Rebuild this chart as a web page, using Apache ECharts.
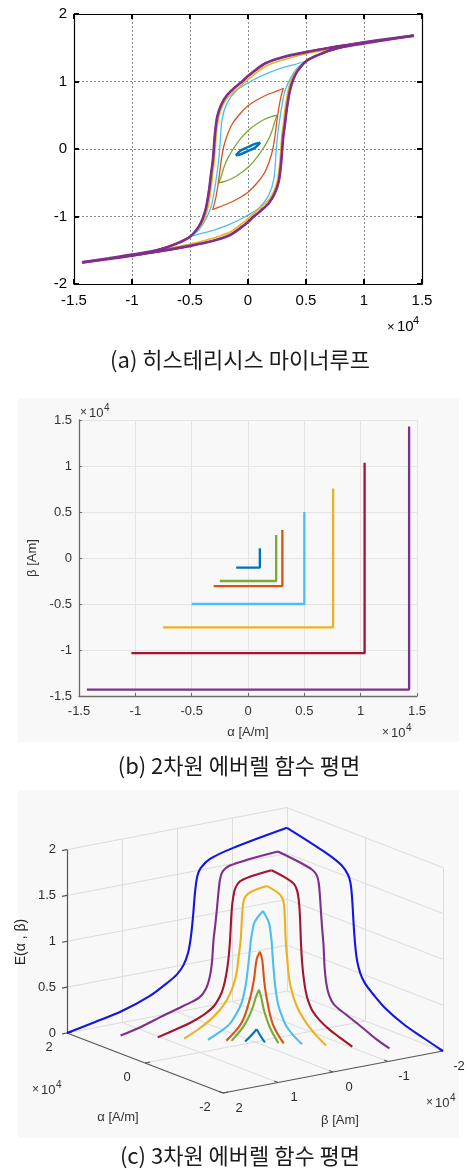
<!DOCTYPE html>
<html>
<head>
<meta charset="utf-8">
<script src="https://cdn.jsdelivr.net/npm/echarts@6/dist/echarts.min.js"></script>
<style>
  html, body { margin: 0; padding: 0; background: #ffffff; }
  #chart { width: 467px; height: 1170px; }
</style>
</head>
<body>
<div id="chart"></div>
<script>
// ---------------- data ----------------
// Minor-loop amplitudes H (A/m) and colours (smallest loop first)
const loopAmplitude = [1050, 2500, 3050, 5000, 7550, 10350, 14300];
const loopColors = ['#0072BD', '#77AC30', '#D95319', '#4DBEEE', '#EDB120', '#A2142F', '#7E2F8E'];
const loopWidths = [2.4, 1.3, 1.3, 1.3, 1.6, 1.6, 2.6];

// Descending branches [H (A/m), B]; each ascending branch is the point reflection of its descending one
const branchBlue = [[1050, 0.095], [600, 0.075], [0, 0.03], [-600, -0.02], [-1050, -0.095]];
const branchGreen = [[2500, 0.50], [2000, 0.48], [1300, 0.43], [500, 0.34], [0, 0.27], [-600, 0.16],
  [-1200, 0.02], [-1700, -0.12], [-2050, -0.26], [-2300, -0.40], [-2500, -0.50]];
const branchRed = [[3050, 0.90], [2500, 0.86], [1600, 0.80], [800, 0.73], [0, 0.64], [-800, 0.50],
  [-1400, 0.36], [-1800, 0.20], [-2100, 0.03], [-2300, -0.16], [-2450, -0.36], [-2650, -0.60],
  [-2850, -0.78], [-3050, -0.90]];
const branchCyan = [[5000, 1.30], [4000, 1.25], [2800, 1.195], [1500, 1.11], [200, 1.0], [-950, 0.875],
  [-1800, 0.68], [-2240, 0.43], [-2440, 0.0], [-2550, -0.2], [-2670, -0.36], [-2900, -0.62],
  [-3180, -0.855], [-3670, -1.05], [-4250, -1.2], [-5000, -1.30]];
const branchYellow = [[7550, 1.49], [6000, 1.445], [4500, 1.39], [3000, 1.32], [1500, 1.225], [500, 1.10],
  [0, 1.03], [-500, 0.955], [-1200, 0.85], [-1800, 0.75], [-2250, 0.62], [-2550, 0.45], [-2730, 0.22],
  [-2830, 0.0], [-2920, -0.2], [-3040, -0.36], [-3200, -0.6], [-3420, -0.84], [-3720, -1.02],
  [-4120, -1.15], [-4900, -1.285], [-6000, -1.39], [-7550, -1.49]];
const branchDarkred = [[10350, 1.59], [8500, 1.545], [6500, 1.49], [4500, 1.42], [3000, 1.36],
  [1500, 1.27], [500, 1.15], [0, 1.08], [-500, 1.0], [-1200, 0.90], [-1800, 0.80], [-2300, 0.66],
  [-2650, 0.48], [-2850, 0.22], [-2950, 0.0], [-3050, -0.2], [-3180, -0.36], [-3350, -0.6],
  [-3600, -0.855], [-3900, -1.03], [-4250, -1.15], [-5000, -1.30], [-6000, -1.39], [-8000, -1.50],
  [-10350, -1.59]];
const branchPurple = [[14300, 1.68], [12000, 1.63], [10000, 1.58], [7500, 1.51], [5000, 1.435],
  [3000, 1.36], [1500, 1.27], [500, 1.15], [0, 1.08], [-500, 1.0], [-1200, 0.90], [-1800, 0.80],
  [-2300, 0.66], [-2650, 0.48], [-2850, 0.22], [-2950, 0.0], [-3050, -0.2], [-3180, -0.36],
  [-3350, -0.6], [-3600, -0.855], [-3900, -1.03], [-4250, -1.15], [-5000, -1.30], [-6000, -1.39],
  [-7500, -1.485], [-10000, -1.565], [-12000, -1.62], [-14300, -1.68]];
const loopBranches = [branchBlue, branchGreen, branchRed, branchCyan, branchYellow, branchDarkred, branchPurple];

// Everett function along each L-shaped path: [s (A/m), E]
// first leg beta = -a, alpha = s; second leg alpha = a, beta = -s
const everettAmplitude = [20000, 14300, 10350, 7550, 5000, 3050, 2500, 1050];
const everettColors = ['#1414E6', '#7E2F8E', '#A2142F', '#EDB120', '#4DBEEE', '#D95319', '#77AC30', '#0072BD'];
const everettBlue = [[-20000, 0], [-15000, 0.06], [-10000, 0.125], [-5000, 0.23], [-2000, 0.33], [0, 0.41],
  [1200, 0.50], [2000, 0.62], [2500, 0.78], [2900, 1.0], [3300, 1.28], [3700, 1.44], [4300, 1.52],
  [6000, 1.60], [10000, 1.67], [20000, 1.78]];
const everettPurple = [[-14300, 0], [-11000, 0.045], [-7000, 0.12], [-3000, 0.19], [0, 0.25], [1200, 0.33],
  [1900, 0.45], [2300, 0.60], [2600, 0.85], [2900, 1.0], [3200, 1.17], [3500, 1.36], [3800, 1.50],
  [4300, 1.58], [5500, 1.625], [9000, 1.655], [14300, 1.68]];
const everettDarkred = [[-10350, 0], [-7000, 0.05], [-4500, 0.09], [-2000, 0.15], [-200, 0.22], [1000, 0.32],
  [1600, 0.41], [2100, 0.54], [2500, 0.70], [2800, 0.91], [3100, 1.23], [3400, 1.38], [3800, 1.47],
  [4600, 1.53], [6500, 1.56], [10350, 1.585]];
const everettYellow = [[-7550, 0], [-5000, 0.07], [-2800, 0.15], [-1000, 0.24], [200, 0.33], [1100, 0.43],
  [1700, 0.53], [2100, 0.64], [2300, 0.745], [2750, 0.96], [2950, 1.17], [3200, 1.35], [3600, 1.42],
  [4600, 1.46], [7550, 1.49]];
const everettCyan = [[-5000, 0], [-2500, 0.07], [-1000, 0.13], [0, 0.21], [1100, 0.33], [1700, 0.47],
  [2000, 0.57], [2500, 0.82], [2800, 1.0], [3100, 1.1], [3500, 1.19], [5000, 1.29]];
const everettRed = [[-3050, 0], [-300, 0.16], [1200, 0.40], [1950, 0.60], [2450, 0.82], [3050, 0.90]];
const everettGreen = [[-2500, 0], [-350, 0.13], [1170, 0.29], [1960, 0.43], [2500, 0.50]];
const everettSmall = [[-1050, 0], [0, 0.05], [1050, 0.11]];
const everettProfiles = [everettBlue, everettPurple, everettDarkred, everettYellow, everettCyan, everettRed,
  everettGreen, everettSmall];

// Tick values
const eTicks = [0, 0.5, 1, 1.5, 2];
const alphaTicks3d = [-20000, 0, 20000];
const betaTicks3d = [-20000, -10000, 0, 10000, 20000];

// ---------------- helpers ----------------
const NUM_FONT = '"Liberation Sans", Arial, sans-serif';
const KR_FONT = '"Noto Sans CJK KR", sans-serif';
const fmt4 = v => String(+(v / 1e4).toFixed(2));

// Orthographic view of the 3-D box: screen offset per 10^4 A/m of alpha / beta and per unit of E
const view3d = { ox: 255, oy: 1042, alpha: [-39, -15], beta: [-55, 10.5], e: -91.7 };
function project(alpha, beta, e) {
  const a = alpha / 1e4, b = beta / 1e4;
  return [view3d.ox + a * view3d.alpha[0] + b * view3d.beta[0],
          view3d.oy + a * view3d.alpha[1] + b * view3d.beta[1] + e * view3d.e];
}

const series = [];

// ---------- (a) hysteresis minor loops ----------
loopBranches.forEach((down, i) => {
  const up = down.map(p => [-p[0], -p[1]]);
  [down, up].forEach(br => {
    series.push({
      type: 'line', xAxisIndex: 0, yAxisIndex: 0, data: br, smooth: 0.3, symbol: 'none',
      lineStyle: { color: loopColors[i], width: loopWidths[i] }, z: 3 + i, silent: true
    });
  });
});

// ---------- (b) Everett integration paths ----------
loopAmplitude.forEach((a, i) => {
  series.push({
    type: 'line', xAxisIndex: 2, yAxisIndex: 2, data: [[-a, -a], [a, -a], [a, a]], symbol: 'none',
    lineStyle: { color: loopColors[i], width: 2.3 }, z: 3 + i, silent: true
  });
});

// ---------- (c) 3-D Everett surface slices ----------
const aMin = -20000, aMax = 20000, bMin = -20000, bMax = 20000, eMax = 2;
const greySegs = [];
const axisSegs = [];
const seg = (p, q) => ({ coords: [project(...p), project(...q)] });
// wall alpha = aMax
betaTicks3d.filter(b => b !== bMax).forEach(b => greySegs.push(seg([aMax, b, 0], [aMax, b, eMax])));
eTicks.forEach(e => greySegs.push(seg([aMax, bMax, e], [aMax, bMin, e])));
// wall beta = bMin
alphaTicks3d.filter(a => a !== aMax).forEach(a => greySegs.push(seg([a, bMin, 0], [a, bMin, eMax])));
eTicks.forEach(e => greySegs.push(seg([aMax, bMin, e], [aMin, bMin, e])));
// floor
betaTicks3d.filter(b => b !== bMax && b !== bMin).forEach(b => greySegs.push(seg([aMax, b, 0], [aMin, b, 0])));
alphaTicks3d.filter(a => a !== aMax && a !== aMin).forEach(a => greySegs.push(seg([a, bMax, 0], [a, bMin, 0])));
// axes
axisSegs.push(seg([aMax, bMax, 0], [aMax, bMax, eMax]));
axisSegs.push(seg([aMax, bMax, 0], [aMin, bMax, 0]));
axisSegs.push(seg([aMin, bMax, 0], [aMin, bMin, 0]));
// tick marks
eTicks.forEach(e => axisSegs.push(seg([aMax, bMax, e], [aMax, bMax + 900, e])));
alphaTicks3d.forEach(a => axisSegs.push(seg([a, bMax, 0], [a, bMax - 900, 0])));
betaTicks3d.forEach(b => axisSegs.push(seg([aMin, b, 0], [aMin + 1000, b, 0])));

series.push({
  type: 'lines', coordinateSystem: 'cartesian2d', xAxisIndex: 3, yAxisIndex: 3, data: greySegs,
  lineStyle: { color: '#dcdcdc', width: 1, opacity: 1 }, z: 1, silent: true
});
series.push({
  type: 'lines', coordinateSystem: 'cartesian2d', xAxisIndex: 3, yAxisIndex: 3, data: axisSegs,
  lineStyle: { color: '#555555', width: 1.2, opacity: 1 }, z: 2, silent: true
});

everettProfiles.forEach((prof, i) => {
  const a = everettAmplitude[i];
  const legs = [prof.map(([s, e]) => project(s, -a, e)), prof.map(([s, e]) => project(a, -s, e))];
  legs.forEach(leg => {
    series.push({
      type: 'line', xAxisIndex: 3, yAxisIndex: 3, data: leg, smooth: 0.35, symbol: 'none',
      lineStyle: { color: everettColors[i], width: 2.1 }, z: 5 + i, silent: true
    });
  });
});

// tick labels of the 3-D box
const labels3d = [];
eTicks.forEach(e => labels3d.push({ p: project(aMax, bMax, e), dx: -11, dy: 0, t: String(e), align: 'right' }));
alphaTicks3d.forEach(a => labels3d.push({ p: project(a, bMax, 0), dx: -18, dy: 14, t: fmt4(a), align: 'center' }));
betaTicks3d.forEach(b => labels3d.push({ p: project(aMin, b, 0), dx: 16, dy: 15, t: fmt4(b), align: 'center' }));
series.push({
  type: 'custom', xAxisIndex: 3, yAxisIndex: 3, silent: true, z: 20,
  data: labels3d.map((l, i) => [l.p[0], l.p[1], i]),
  renderItem: (params, api) => {
    const l = labels3d[api.value(2)];
    const c = api.coord([api.value(0), api.value(1)]);
    return {
      type: 'text', x: c[0] + l.dx, y: c[1] + l.dy,
      style: { text: l.t, fill: '#2b2b2b', font: '13px ' + NUM_FONT, align: l.align, verticalAlign: 'middle' }
    };
  }
});

// ---------------- axes ----------------
const frameAxisA = (extra) => Object.assign({
  type: 'value', min: -15000, max: 15000, interval: 5000,
  axisLine: { show: true, onZero: false, lineStyle: { color: '#000', width: 1.2 } },
  axisTick: { show: true, inside: true, length: 5, lineStyle: { color: '#000', width: 2 } },
  splitLine: { show: false }
}, extra);

const option = {
  animation: false,
  backgroundColor: '#ffffff',
  grid: [
    { left: 74, top: 14, width: 348, height: 270 },
    { left: 79, top: 420, width: 338, height: 276 },
    { left: 0, top: 0, width: 467, height: 1170 }
  ],
  xAxis: [
    frameAxisA({
      gridIndex: 0, position: 'bottom',
      axisLabel: { formatter: fmt4, fontSize: 15, color: '#000', margin: 9, fontFamily: NUM_FONT },
      splitLine: { show: true, lineStyle: { color: '#8a8a8a', width: 1, type: [2, 2] } }
    }),
    frameAxisA({ gridIndex: 0, position: 'top', axisLabel: { show: false } }),
    {
      gridIndex: 1, type: 'value', min: -15000, max: 15000, interval: 5000,
      axisLine: { show: true, onZero: false, lineStyle: { color: '#6a6a6a', width: 1.3 } },
      axisTick: { show: true, inside: true, length: 3, lineStyle: { color: '#6a6a6a' } },
      axisLabel: { formatter: fmt4, fontSize: 13, color: '#333', margin: 9, fontFamily: NUM_FONT },
      splitLine: { show: true, lineStyle: { color: '#e4e4e4', width: 1 } },
      name: 'α [A/m]', nameLocation: 'middle', nameGap: 30,
      nameTextStyle: { fontSize: 13, color: '#333', fontFamily: NUM_FONT }
    },
    { gridIndex: 2, type: 'value', min: 0, max: 467, show: false }
  ],
  yAxis: [
    {
      gridIndex: 0, type: 'value', min: -2, max: 2, interval: 1, position: 'left',
      axisLine: { show: true, onZero: false, lineStyle: { color: '#000', width: 1.2 } },
      axisTick: { show: true, inside: true, length: 5, lineStyle: { color: '#000', width: 2 } },
      axisLabel: { fontSize: 15, color: '#000', margin: 7, fontFamily: NUM_FONT },
      splitLine: { show: true, lineStyle: { color: '#8a8a8a', width: 1, type: [2, 2] } }
    },
    {
      gridIndex: 0, type: 'value', min: -2, max: 2, interval: 1, position: 'right',
      axisLine: { show: true, onZero: false, lineStyle: { color: '#000', width: 1.2 } },
      axisTick: { show: true, inside: true, length: 5, lineStyle: { color: '#000', width: 2 } },
      axisLabel: { show: false }, splitLine: { show: false }
    },
    {
      gridIndex: 1, type: 'value', min: -15000, max: 15000, interval: 5000,
      axisLine: { show: true, onZero: false, lineStyle: { color: '#6a6a6a', width: 1.3 } },
      axisTick: { show: true, inside: true, length: 3, lineStyle: { color: '#6a6a6a' } },
      axisLabel: { formatter: fmt4, fontSize: 13, color: '#333', margin: 7, fontFamily: NUM_FONT },
      splitLine: { show: true, lineStyle: { color: '#e4e4e4', width: 1 } },
      name: 'β [Am]', nameLocation: 'middle', nameGap: 36, nameRotate: 90,
      nameTextStyle: { fontSize: 13, color: '#333', fontFamily: NUM_FONT }
    },
    { gridIndex: 2, type: 'value', min: 0, max: 1170, inverse: true, show: false }
  ],
  graphic: [
    { type: 'rect', z: -100, shape: { x: 18, y: 398, width: 441, height: 344 }, style: { fill: '#f8f8f8' } },
    { type: 'rect', z: -100, shape: { x: 18, y: 790, width: 441, height: 348 }, style: { fill: '#f8f8f8' } },

    // (a) exponent
    { type: 'text', x: 387, y: 327, style: { text: '×', font: '13px ' + NUM_FONT, fill: '#000', verticalAlign: 'middle' } },
    { type: 'text', x: 397, y: 327, style: { text: '10', font: '15px ' + NUM_FONT, fill: '#000', verticalAlign: 'middle' } },
    { type: 'text', x: 413, y: 321, style: { text: '4', font: '11px ' + NUM_FONT, fill: '#000', verticalAlign: 'middle' } },
    // (b) exponents
    { type: 'text', x: 80, y: 413, style: { text: '×', font: '12px ' + NUM_FONT, fill: '#333', verticalAlign: 'middle' } },
    { type: 'text', x: 89, y: 413, style: { text: '10', font: '13px ' + NUM_FONT, fill: '#333', verticalAlign: 'middle' } },
    { type: 'text', x: 104, y: 408, style: { text: '4', font: '10px ' + NUM_FONT, fill: '#333', verticalAlign: 'middle' } },
    { type: 'text', x: 382, y: 733, style: { text: '×', font: '12px ' + NUM_FONT, fill: '#333', verticalAlign: 'middle' } },
    { type: 'text', x: 391, y: 733, style: { text: '10', font: '13px ' + NUM_FONT, fill: '#333', verticalAlign: 'middle' } },
    { type: 'text', x: 406, y: 728, style: { text: '4', font: '10px ' + NUM_FONT, fill: '#333', verticalAlign: 'middle' } },
    // (c) exponents and axis names
    { type: 'text', x: 32, y: 1090, style: { text: '×', font: '12px ' + NUM_FONT, fill: '#333', verticalAlign: 'middle' } },
    { type: 'text', x: 41, y: 1090, style: { text: '10', font: '13px ' + NUM_FONT, fill: '#333', verticalAlign: 'middle' } },
    { type: 'text', x: 56, y: 1085, style: { text: '4', font: '10px ' + NUM_FONT, fill: '#333', verticalAlign: 'middle' } },
    { type: 'text', x: 426, y: 1103, style: { text: '×', font: '12px ' + NUM_FONT, fill: '#333', verticalAlign: 'middle' } },
    { type: 'text', x: 435, y: 1103, style: { text: '10', font: '13px ' + NUM_FONT, fill: '#333', verticalAlign: 'middle' } },
    { type: 'text', x: 450, y: 1098, style: { text: '4', font: '10px ' + NUM_FONT, fill: '#333', verticalAlign: 'middle' } },
    { type: 'text', x: 118, y: 1117, style: { text: 'α [A/m]', font: '13px ' + NUM_FONT, fill: '#333', align: 'center', verticalAlign: 'middle' } },
    { type: 'text', x: 340, y: 1120, style: { text: 'β [Am]', font: '13px ' + NUM_FONT, fill: '#333', align: 'center', verticalAlign: 'middle' } },
    { type: 'text', x: 21, y: 942, rotation: Math.PI / 2, style: { text: 'E(α , β)', font: '14px ' + NUM_FONT, fill: '#222', align: 'center', verticalAlign: 'middle' } },

    // captions
    { type: 'text', x: 240, y: 360, style: { text: '(a) 히스테리시스 마이너루프', font: '22px ' + KR_FONT, fill: '#1a1a1a', align: 'center', verticalAlign: 'middle' } },
    { type: 'text', x: 239, y: 766, style: { text: '(b) 2차원 에버렐 함수 평면', font: '22px ' + KR_FONT, fill: '#1a1a1a', align: 'center', verticalAlign: 'middle' } },
    { type: 'text', x: 240, y: 1156, style: { text: '(c) 3차원 에버렐 함수 평면', font: '22px ' + KR_FONT, fill: '#1a1a1a', align: 'center', verticalAlign: 'middle' } }
  ],
  series: series
};

const chart = echarts.init(document.getElementById('chart'));
chart.setOption(option);
</script>
</body>
</html>
